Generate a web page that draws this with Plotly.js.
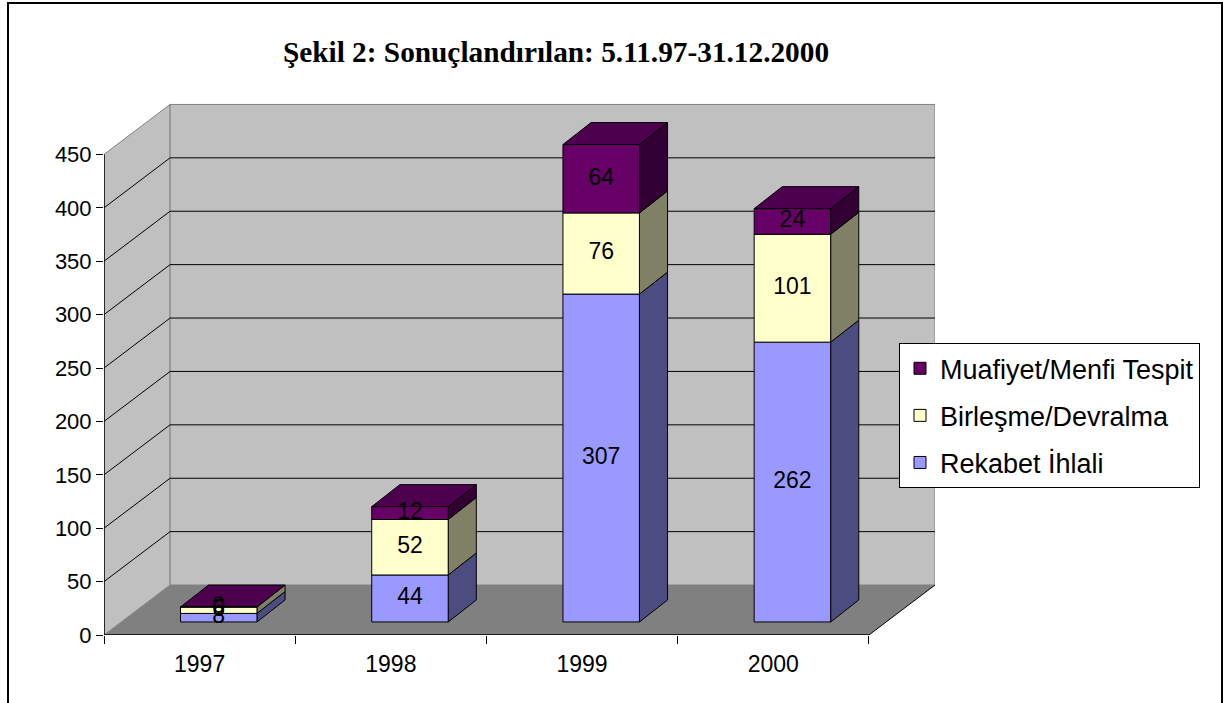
<!DOCTYPE html>
<html>
<head>
<meta charset="utf-8">
<script src="https://cdn.plot.ly/plotly-3.0.1.min.js"></script>
<style>
  html, body { margin: 0; padding: 0; background: #fff; }
  #chart { width: 1223px; height: 703px; position: absolute; left: 0; top: 0; }
  #frame { position: absolute; left: 7px; top: 2px; width: 1212px; height: 740px; border: 2px solid #000; pointer-events: none; }
</style>
</head>
<body>
<div id="chart"></div>
<div id="frame"></div>
<script>
// ---- data ----
const years = ['1997', '1998', '1999', '2000'];
const rekabet = [8, 44, 307, 262];
const birlesme = [6, 52, 76, 101];
const muafiyet = [0, 12, 64, 24];
const seriesNames = ['Rekabet İhlali', 'Birleşme/Devralma', 'Muafiyet/Menfi Tespit'];
const yTickVals = [0, 50, 100, 150, 200, 250, 300, 350, 400, 450];

// ---- styling / geometry ----
const frontColors = ['#9999FF', '#FFFFCC', '#660066'];
const sideColors = ['#4C4C80', '#808066', '#330033'];
const topColors = ['#7373BF', '#BFBF99', '#4D004D'];
const FONT = 'Liberation Sans, Arial, sans-serif';
const WALL_DX = 0.3456, WALL_DY = 46.78;     // full depth of the floor in axis units
const FRONT_DX = 0.10, FRONT_DY = 12.2;      // bar front face offset
const DEPTH_DX = 0.147, DEPTH_DY = 20.6;     // bar depth
const BAR_W = 0.40;
const YMAX = 450;

const series = [rekabet, birlesme, muafiyet];
const idx = years.map((_, i) => i);
const barX = idx.map(i => i + FRONT_DX);

const traces = [];
const bases = series.map((s, k) => s.map((v, i) => {
  let b = FRONT_DY;
  for (let j = 0; j < k; j++) b += series[j][i];
  return b;
}));

series.forEach((s, k) => {
  traces.push({
    type: 'bar', x: barX, y: s, base: bases[k], width: BAR_W,
    name: seriesNames[k], legendgroup: 'g' + k, legendrank: 10 - k,
    marker: { color: frontColors[k], line: { color: '#000', width: 1 } },
    hoverinfo: 'skip'
  });
});

// value labels
series.forEach((s, k) => {
  traces.push({
    type: 'scatter', mode: 'text', x: barX,
    y: s.map((v, i) => bases[k][i] + v / 2),
    text: s.map(String), textposition: 'middle center',
    textfont: { family: FONT, size: 23, color: '#000' },
    showlegend: false, hoverinfo: 'skip', cliponaxis: false
  });
});

// ---- shapes: walls, floor, gridlines, 3D faces ----
const shapes = [];
const x0 = -0.5, x1 = 3.5;
const poly = (pts) => 'M' + pts.map(p => p[0] + ',' + p[1]).join('L') + 'Z';
// floor
shapes.push({ type: 'path', xref: 'x', yref: 'y', layer: 'below',
  path: poly([[x0, 0], [x1, 0], [x1 + WALL_DX, WALL_DY], [x0 + WALL_DX, WALL_DY]]),
  fillcolor: '#808080', line: { width: 0 } });
// left wall
shapes.push({ type: 'path', xref: 'x', yref: 'y', layer: 'below',
  path: poly([[x0, 0], [x0, YMAX], [x0 + WALL_DX, YMAX + WALL_DY], [x0 + WALL_DX, WALL_DY]]),
  fillcolor: '#C0C0C0', line: { color: '#808080', width: 1 } });
// back wall
shapes.push({ type: 'rect', xref: 'x', yref: 'y', layer: 'below',
  x0: x0 + WALL_DX, x1: x1 + WALL_DX, y0: WALL_DY, y1: YMAX + WALL_DY,
  fillcolor: '#C0C0C0', line: { color: '#808080', width: 1 } });
// gridlines
yTickVals.forEach(v => {
  if (v === 0 || v === YMAX) return;
  shapes.push({ type: 'line', xref: 'x', yref: 'y', layer: 'below',
    x0: x0, y0: v, x1: x0 + WALL_DX, y1: v + WALL_DY, line: { color: '#000', width: 1 } });
  shapes.push({ type: 'line', xref: 'x', yref: 'y', layer: 'below',
    x0: x0 + WALL_DX, y0: v + WALL_DY, x1: x1 + WALL_DX, y1: v + WALL_DY, line: { color: '#000', width: 1 } });
});
// floor right edge
shapes.push({ type: 'line', xref: 'x', yref: 'y', layer: 'below',
  x0: x1, y0: 0, x1: x1 + WALL_DX, y1: WALL_DY, line: { color: '#000', width: 1 } });
// bar side & top faces
idx.forEach(i => {
  const xr = barX[i] + BAR_W / 2, xl = barX[i] - BAR_W / 2;
  series.forEach((s, k) => {
    const v = s[i];
    if (v <= 0) return;
    const b0 = bases[k][i], b1 = b0 + v;
    shapes.push({ type: 'path', xref: 'x', yref: 'y', layer: 'below',
      path: poly([[xr, b0], [xr, b1], [xr + DEPTH_DX, b1 + DEPTH_DY], [xr + DEPTH_DX, b0 + DEPTH_DY]]),
      fillcolor: sideColors[k], line: { color: '#000', width: 1 } });
  });
  const topK = series.length - 1;
  const top = bases[topK][i] + series[topK][i];
  shapes.push({ type: 'path', xref: 'x', yref: 'y', layer: 'below',
    path: poly([[xl, top], [xr, top], [xr + DEPTH_DX, top + DEPTH_DY], [xl + DEPTH_DX, top + DEPTH_DY]]),
    fillcolor: topColors[topK], line: { color: '#000', width: 1 } });
});
// axis lines
shapes.push({ type: 'line', xref: 'x', yref: 'y', layer: 'above',
  x0: x0, y0: 0, x1: x1, y1: 0, line: { color: '#000', width: 1.5 } });
shapes.push({ type: 'line', xref: 'x', yref: 'y', layer: 'above',
  x0: x0, y0: 0, x1: x0, y1: YMAX, line: { color: '#000', width: 1.5 } });

const layout = {
  width: 1223, height: 703,
  margin: { l: 104, r: 288, t: 100.6, b: 68 },
  paper_bgcolor: '#fff', plot_bgcolor: 'rgba(0,0,0,0)',
  barmode: 'overlay',
  title: { text: '<b>Şekil 2: Sonuçlandırılan: 5.11.97-31.12.2000</b>',
    font: { family: 'Liberation Serif, Times New Roman, serif', size: 29.3, color: '#000' },
    x: 556 / 1223, xanchor: 'center', xref: 'container', y: 1 - 52 / 703, yanchor: 'middle', yref: 'container' },
  xaxis: { range: [-0.5, 3.8456], tickmode: 'array', tickvals: idx, ticktext: years, ticks: '',
    showgrid: false, zeroline: false, showline: false, fixedrange: true, ticklabelstandoff: 13,
    tickfont: { family: FONT, size: 23, color: '#000' },
    minor: { tickmode: 'array', tickvals: [-0.5, 0.5, 1.5, 2.5, 3.5], ticks: 'outside', ticklen: 8,
      tickcolor: '#000', tickwidth: 1, showgrid: false } },
  yaxis: { range: [0, 500], tickmode: 'array', tickvals: yTickVals, ticks: 'outside', ticklen: 7,
    tickcolor: '#000', tickwidth: 1, showgrid: false, zeroline: false, showline: false,
    tickfont: { family: FONT, size: 22, color: '#000' } },
  legend: { x: (899 - 104) / 831, xanchor: 'left', y: (635 - 343) / 534.4, yanchor: 'top',
    bgcolor: '#fff', bordercolor: '#000', borderwidth: 1,
    font: { family: FONT, size: 27, color: '#000' },
    traceorder: 'grouped', tracegroupgap: 9 },
  shapes: shapes,
  showlegend: true
};

Plotly.newPlot('chart', traces, layout, { displayModeBar: false, staticPlot: true });
</script>
</body>
</html>
